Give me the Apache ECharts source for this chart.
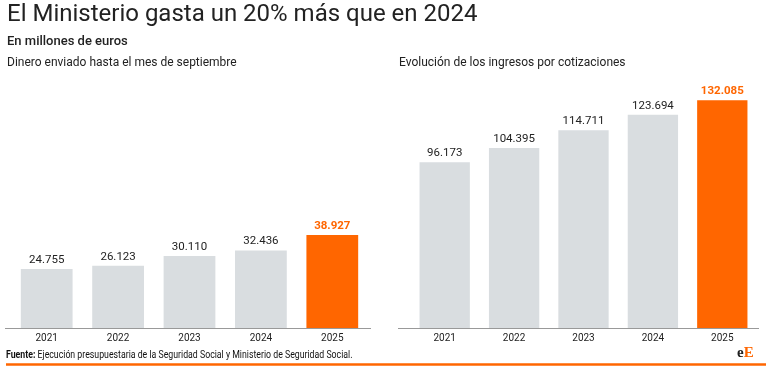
<!DOCTYPE html>
<html><head><meta charset="utf-8">
<script src="https://cdn.jsdelivr.net/npm/echarts@6/dist/echarts.min.js"></script>
<style>html,body{margin:0;padding:0;background:#fff}#c{width:771px;height:369px}</style>
</head><body><div id="c"></div>
<script>
const years = ['2021','2022','2023','2024','2025'];
const envios = [24755, 26123, 30110, 32436, 38927];
const ingresos = [96173, 104395, 114711, 123694, 132085];
const highlightIndex = 4;

const GREY = '#d9dde0', ORANGE = '#ff6600', TXT = '#222';
const fmt = v => String(v).replace(/\B(?=(\d{3})+(?!\d))/g, '.');
const F = 'Roboto, sans-serif';

function mkData(arr){
  return arr.map((v,i)=> i===highlightIndex ? {
    value:v, itemStyle:{color:ORANGE},
    label:{color:ORANGE, fontWeight:'bold'}
  } : {value:v});
}
function series(arr, idx){
  return {
    type:'bar', xAxisIndex:idx, yAxisIndex:idx, data:mkData(arr),
    barWidth:'72.5%', itemStyle:{color:GREY},
    label:{show:true, position:'top', distance:3, fontFamily:F, fontSize:11.5, color:TXT,
      formatter:p=>fmt(p.value)},
    silent:true, animation:false
  };
}
function xAx(idx){
  return {type:'category', gridIndex:idx, data:years,
    axisLine:{show:false}, axisTick:{show:false},
    axisLabel:{fontFamily:F, fontSize:10, color:TXT, margin:5}};
}
function yAx(idx,max){
  return {type:'value', gridIndex:idx, min:0, max:max, show:false, splitLine:{show:false}};
}
const chart = echarts.init(document.getElementById('c'), null, {renderer:'canvas'});
chart.setOption({
  animation:false,
  grid:[
    {left:11, width:357, top:100, height:228},
    {left:410, width:347, top:100, height:228}
  ],
  xAxis:[xAx(0), xAx(1)],
  yAxis:[yAx(0,95500), yAx(1,132300)],
  series:[series(envios,0), series(ingresos,1)],
  graphic:[
    {type:'text', left:7, top:3, style:{text:'El Ministerio gasta un 20% más que en 2024', font:'400 24px Roboto', fill:'#222'}},
    {type:'text', left:7, top:35, style:{text:'En millones de euros', font:'500 13px Roboto', fill:'#222'}},
    {type:'text', left:7, top:57, style:{text:'Dinero enviado hasta el mes de septiembre', font:'400 12px Roboto', fill:'#222'}},
    {type:'text', left:399, top:57, style:{text:'Evolución de los ingresos por cotizaciones', font:'400 12px Roboto', fill:'#222'}},
    {type:'line', shape:{x1:5, y1:328.5, x2:371, y2:328.5}, style:{stroke:'#999', lineWidth:1}},
    {type:'line', shape:{x1:398, y1:328.5, x2:759, y2:328.5}, style:{stroke:'#999', lineWidth:1}},
    {type:'text', x:6, y:350, scaleX:0.875, style:{
      text:'{b|Fuente:} Ejecución presupuestaria de la Seguridad Social y Ministerio de Seguridad Social.',
      font:'400 10px Roboto', fill:'#111',
      rich:{b:{fontFamily:'Roboto', fontSize:10, fontWeight:'bold', fill:'#111'}}}},
    {type:'text', x:737, y:346, style:{text:'{e|e}{E|E}', rich:{
      e:{fontFamily:'Liberation Serif', fontSize:15, fontWeight:'bold', fill:'#222'},
      E:{fontFamily:'Liberation Serif', fontSize:15, fontWeight:'bold', fill:ORANGE}}}},
    {type:'line', shape:{x1:6, y1:364.5, x2:766, y2:364.5}, style:{stroke:ORANGE, lineWidth:2.5}}
  ]
});
</script></body></html>
